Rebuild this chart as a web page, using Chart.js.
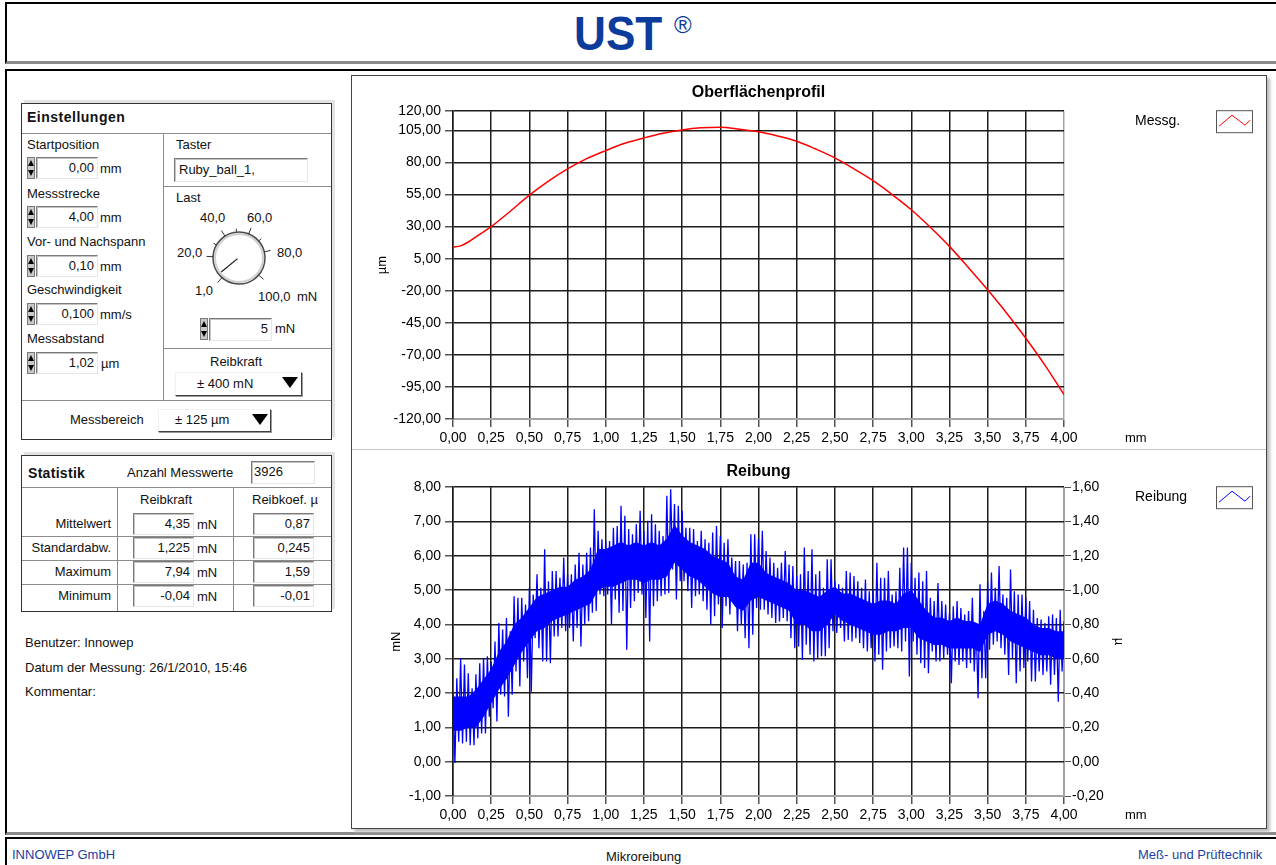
<!DOCTYPE html>
<html lang="de">
<head>
<meta charset="utf-8">
<title>UST Mikroreibung</title>
<script src="https://cdn.jsdelivr.net/npm/chart.js@4.4.0/dist/chart.umd.min.js"></script>
<style>
  body { margin: 0; width: 1276px; height: 865px; overflow: hidden; background: #fff;
         font-family: "Liberation Sans", Arial, sans-serif; font-size: 13px; color: #111; position: relative; }
  .abs { position: absolute; box-sizing: border-box; }
  .t { position: absolute; white-space: nowrap; line-height: 16px; font-size: 13px; }
  .frame { position: absolute; box-sizing: border-box; border: 1px solid #333; background: #fff;
           box-shadow: 3px -3px 0 #e2e2e2; }
  .hl { position: absolute; height: 1px; background: #8c8c8c; }
  .vl { position: absolute; width: 1px; background: #8c8c8c; }
  .box { position: absolute; box-sizing: border-box; background: #fff; border: 1px solid;
         border-color: #7a7a7a #e6e6e6 #e6e6e6 #7a7a7a; box-shadow: inset 1px 1px 0 #c4c4c4;
         text-align: right; padding-right: 3px; font-size: 13px; line-height: 20px; white-space: nowrap; }
  .drop { position: absolute; box-sizing: border-box; background: #fff; border: 1px solid;
          border-color: #f2f2f2 #404040 #404040 #f2f2f2; box-shadow: 1px 1px 0 #9a9a9a; }
  canvas { position: absolute; }
</style>
</head>
<body>

<!-- Kopf -->
<div class="abs" style="left:5px;top:2px;width:1290px;height:62px;border-left:2px solid #000;border-top:2px solid #000;border-bottom:3px solid #8a8a8a;"></div>
<div class="abs" style="left:574px;top:10px;font:bold 48px/48px 'Liberation Sans',Arial,sans-serif;color:#0b3b9b;transform:scaleX(0.92);transform-origin:left top;">UST</div>
<div class="abs" style="left:674px;top:13px;font:24px/24px 'Liberation Sans',Arial,sans-serif;color:#0b3b9b;">®</div>

<!-- Hauptrahmen -->
<div class="abs" style="left:5px;top:69px;width:1290px;height:766px;border-left:2px solid #000;border-top:2px solid #000;border-bottom:3px solid #8a8a8a;"></div>

<!-- Fuss -->
<div class="abs" style="left:5px;top:837px;width:1290px;height:40px;border-left:2px solid #000;border-top:2px solid #000;"></div>
<div class="t" style="left:12px;top:847px;color:#1a3fa0;">INNOWEP GmbH</div>
<div class="t" style="left:606px;top:849px;">Mikroreibung</div>
<div class="t" style="left:1138px;top:847px;color:#1a3fa0;">Meß- und Prüftechnik</div>

<!-- Einstellungen -->
<div class="frame" style="left:21px;top:103px;width:311px;height:337px;"></div>
<div class="t" style="left:27px;top:109px;font-weight:bold;font-size:14px;letter-spacing:0.5px;">Einstellungen</div>
<div class="hl" style="left:22px;top:133px;width:309px;"></div>
<div class="vl" style="left:163px;top:134px;height:266px;"></div>
<div class="hl" style="left:22px;top:400px;width:309px;"></div>
<div class="hl" style="left:164px;top:186px;width:167px;"></div>
<div class="hl" style="left:164px;top:348px;width:167px;"></div>

<div class="t" style="left:27px;top:137px;">Startposition</div>
<div class="box" style="left:36px;top:157px;width:62px;height:22px;">0,00</div>
<div class="t" style="left:100px;top:161px;">mm</div>
<div class="t" style="left:27px;top:186px;">Messstrecke</div>
<div class="box" style="left:36px;top:206px;width:62px;height:22px;">4,00</div>
<div class="t" style="left:100px;top:210px;">mm</div>
<div class="t" style="left:27px;top:234px;">Vor- und Nachspann</div>
<div class="box" style="left:36px;top:255px;width:62px;height:22px;">0,10</div>
<div class="t" style="left:100px;top:259px;">mm</div>
<div class="t" style="left:27px;top:282px;">Geschwindigkeit</div>
<div class="box" style="left:36px;top:303px;width:62px;height:22px;">0,100</div>
<div class="t" style="left:100px;top:307px;">mm/s</div>
<div class="t" style="left:27px;top:331px;">Messabstand</div>
<div class="box" style="left:36px;top:352px;width:62px;height:22px;">1,02</div>
<div class="t" style="left:101px;top:356px;">µm</div>

<div class="t" style="left:176px;top:137px;">Taster</div>
<div class="box" style="left:174px;top:158px;width:134px;height:24px;text-align:left;padding-left:4px;line-height:22px;">Ruby_ball_1,</div>
<div class="t" style="left:176px;top:190px;">Last</div>
<div class="t" style="left:200px;top:210px;">40,0</div>
<div class="t" style="left:247px;top:210px;">60,0</div>
<div class="t" style="left:177px;top:245px;">20,0</div>
<div class="t" style="left:277px;top:245px;">80,0</div>
<div class="t" style="left:195px;top:283px;">1,0</div>
<div class="t" style="left:258px;top:289px;">100,0</div>
<div class="t" style="left:297px;top:289px;">mN</div>
<div class="box" style="left:209px;top:318px;width:63px;height:23px;">5</div>
<div class="t" style="left:275px;top:321px;">mN</div>
<div class="t" style="left:210px;top:354px;">Reibkraft</div>
<div class="drop" style="left:175px;top:372px;width:127px;height:24px;"></div>
<div class="t" style="left:197px;top:376px;">± 400 mN</div>
<div class="t" style="left:70px;top:412px;">Messbereich</div>
<div class="drop" style="left:158px;top:409px;width:113px;height:23px;"></div>
<div class="t" style="left:175px;top:412px;">± 125 µm</div>

<svg class="abs" style="left:0;top:0;" width="1276" height="865">
  <g fill="#000">
    <path d="M282 377 L298 377 L290 388 Z"/>
    <path d="M252 414 L268 414 L260 425 Z"/>
  </g>
  <g id="spinners"></g>
  <g id="dial" stroke-linecap="square"></g>
</svg>

<!-- Statistik -->
<div class="frame" style="left:21px;top:455px;width:311px;height:157px;"></div>
<div class="t" style="left:28px;top:465px;font-weight:bold;font-size:14px;letter-spacing:0.3px;">Statistik</div>
<div class="t" style="left:127px;top:465px;">Anzahl Messwerte</div>
<div class="box" style="left:251px;top:461px;width:64px;height:23px;text-align:left;padding-left:2px;" id="anzahl"></div>
<div class="hl" style="left:22px;top:487px;width:309px;"></div>
<div class="vl" style="left:117px;top:488px;height:123px;"></div>
<div class="vl" style="left:233px;top:488px;height:123px;"></div>
<div class="t" style="left:140px;top:492px;">Reibkraft</div>
<div class="t" style="left:252px;top:492px;">Reibkoef. µ</div>
<div id="statRows"></div>

<div class="t" style="left:25px;top:635px;">Benutzer: Innowep</div>
<div class="t" style="left:25px;top:660px;">Datum der Messung: 26/1/2010, 15:46</div>
<div class="t" style="left:25px;top:684px;">Kommentar:</div>

<!-- Diagramme -->
<div class="abs" style="left:351px;top:75px;width:916px;height:754px;border:1px solid #444;box-shadow:3px 3px 3px #bdbdbd;background:#fff;"></div>
<div class="hl" style="left:352px;top:449px;width:914px;background:#c6c6c6;"></div>
<canvas id="profilChart" width="913" height="370" style="left:353px;top:77px;"></canvas>
<canvas id="reibChart" width="913" height="370" style="left:353px;top:454px;"></canvas>

<script>
// Statistik
const anzahlMesswerte = "3926";
const statLabels = ["Mittelwert", "Standardabw.", "Maximum", "Minimum"];
const statKraft = ["4,35", "1,225", "7,94", "-0,04"];
const statKoef = ["0,87", "0,245", "1,59", "-0,01"];

// Oberflächenprofil (mm / µm)
const profilX = [0, 0.05, 0.1, 0.15, 0.2, 0.25, 0.375, 0.5, 0.625, 0.75, 0.875, 1.0,
  1.125, 1.25, 1.375, 1.5, 1.625, 1.75, 1.875, 2.0, 2.125, 2.25, 2.375, 2.5, 2.625,
  2.75, 2.875, 3.0, 3.125, 3.25, 3.375, 3.5, 3.625, 3.75, 3.875, 4.0];
const profilY = [14, 15, 18, 22, 26, 30, 42, 54.5, 65.5, 75, 83, 89.3,
  95, 99.2, 102.8, 105.4, 107, 107.5, 106, 104, 100.7, 96.6, 90.5, 83.6, 75,
  65.8, 55, 43.2, 29.5, 14.6, -2, -19.3, -37.5, -57, -78, -101];

// Reibung (mN): Spitzenwerte je 0,025 mm
const reibSchritt = 0.025;
const reibMax = [
  2.0, 2.43, 3.02, 2.83, 2.58, 2.14, 2.55, 2.87, 3.02, 3.07,
  2.92, 3.5, 4.04, 3.85, 4.19, 3.8, 4.82, 4.78, 4.78, 4.58,
  5.07, 4.87, 5.46, 5.07, 6.19, 5.26, 5.56, 5.56, 5.36, 5.95,
  5.46, 5.46, 5.75, 6.09, 5.75, 6.09, 6.24, 7.36, 6.73, 6.48,
  6.43, 6.43, 6.82, 6.87, 7.46, 7.17, 6.78, 6.63, 6.92, 7.31,
  6.73, 7.02, 7.21, 6.92, 6.73, 6.58, 7.75, 7.94, 7.51, 7.46,
  7.31, 6.82, 6.82, 6.78, 6.43, 6.73, 6.48, 6.38, 6.68, 6.87,
  6.58, 6.38, 6.48, 5.95, 5.85, 5.85, 5.75, 5.8, 6.63, 6.63,
  6.5, 6.73, 6.14, 5.95, 5.8, 5.65, 5.8, 6.14, 5.75, 5.7,
  5.41, 5.46, 6.24, 5.56, 6.19, 5.46, 5.56, 5.07, 5.9, 5.9,
  5.26, 5.17, 5.07, 5.56, 5.51, 5.41, 5.26, 5.07, 5.31, 4.97,
  5.02, 5.8, 5.36, 5.36, 5.56, 4.87, 4.97, 5.65, 6.24, 6.24,
  5.8, 5.36, 5.51, 5.26, 5.56, 4.78, 4.68, 5.21, 4.68, 4.58,
  4.34, 4.53, 4.68, 4.48, 4.29, 4.39, 4.78, 4.0, 5.17, 4.39,
  5.26, 5.51, 5.07, 5.7, 4.87, 4.78, 5.6, 4.97, 4.87, 4.87,
  4.78, 4.68, 4.43, 4.19, 4.14, 4.04, 4.24, 4.29, 4.19, 4.43,
  4.09];
const reibMin = [
  -0.04, 0.58, 0.53, 0.58, 0.48, 0.48, 0.68, 0.82, 0.82, 1.31,
  1.56, 1.17, 1.95, 1.9, 1.31, 1.95, 2.63, 2.19, 2.92, 2.43,
  2.04, 3.6, 3.31, 2.92, 2.92, 2.87, 3.65, 3.65, 3.9, 3.8,
  3.9, 3.5, 3.9, 3.36, 4.0, 4.09, 4.34, 4.39, 4.87, 4.82,
  4.87, 4.0, 4.73, 4.34, 4.39, 3.26, 4.48, 4.68, 4.92, 4.87,
  4.19, 3.5, 4.53, 4.68, 4.82, 4.87, 4.92, 5.6, 4.73, 5.26,
  5.26, 4.97, 4.48, 4.82, 4.87, 4.68, 4.43, 4.0, 4.24, 4.58,
  3.9, 4.53, 4.29, 4.63, 3.8, 4.0, 3.6, 3.31, 3.7, 4.48,
  4.43, 4.43, 4.29, 4.19, 4.04, 4.09, 4.19, 4.09, 3.6, 3.31,
  3.36, 2.97, 3.41, 3.12, 2.92, 3.02, 3.07, 3.07, 3.31, 3.8,
  3.75, 3.9, 3.5, 3.55, 3.5, 3.6, 3.46, 3.31, 3.21, 3.31,
  2.92, 3.12, 2.68, 3.21, 3.31, 3.36, 3.31, 3.21, 3.5, 2.48,
  3.5, 3.12, 2.87, 2.73, 2.58, 3.21, 2.92, 2.92, 3.02, 3.12,
  2.29, 2.92, 2.82, 2.92, 2.73, 2.87, 2.63, 1.85, 2.43, 2.43,
  3.26, 3.41, 3.5, 3.31, 3.12, 2.53, 3.02, 2.29, 2.63, 2.73,
  2.92, 2.34, 2.34, 2.63, 2.53, 2.63, 2.24, 2.53, 1.75, 2.63,
  2.53];

// dichter Kern des Reibungsbandes je 0,05 mm
const kernSchritt = 0.05;
const kernOben = [
  1.9, 1.9, 1.9, 2.1, 2.4, 2.7, 3.2, 3.5, 4.0, 4.2,
  4.5, 4.8, 4.9, 5.0, 5.1, 5.1, 5.3, 5.4, 5.6, 6.2,
  6.2, 6.3, 6.4, 6.3, 6.4, 6.3, 6.4, 6.3, 6.5, 6.9,
  6.6, 6.4, 6.3, 6.2, 6.0, 5.9, 5.8, 5.4, 5.3, 5.8,
  5.8, 5.5, 5.4, 5.3, 5.2, 5.0, 5.0, 4.9, 4.8, 5.0,
  5.1, 4.9, 4.9, 4.8, 4.7, 4.6, 4.7, 4.7, 4.6, 4.9,
  5.0, 4.7, 4.4, 4.2, 4.2, 4.1, 4.2, 4.1, 4.1, 4.0,
  4.6, 4.7, 4.6, 4.4, 4.3, 4.2, 4.0, 3.9, 3.9, 3.8,
  3.8];
const kernUnten = [
  0.9, 0.9, 1.0, 1.0, 1.3, 1.7, 2.1, 2.4, 2.8, 3.2,
  3.5, 3.8, 3.9, 4.1, 4.2, 4.3, 4.4, 4.5, 4.6, 5.0,
  5.1, 5.1, 5.2, 5.3, 5.3, 5.2, 5.3, 5.3, 5.4, 5.8,
  5.6, 5.4, 5.3, 5.1, 4.9, 4.8, 4.8, 4.5, 4.4, 4.7,
  4.8, 4.7, 4.6, 4.5, 4.4, 4.0, 4.0, 3.8, 3.8, 4.0,
  4.3, 4.1, 4.0, 3.9, 3.8, 3.7, 3.7, 3.8, 3.8, 3.9,
  3.9, 3.6, 3.5, 3.4, 3.4, 3.3, 3.3, 3.3, 3.3, 3.2,
  3.7, 3.8, 3.7, 3.5, 3.4, 3.3, 3.2, 3.1, 3.1, 3.0,
  3.0];

// Achsenteilung
const xTicks = [0, 0.25, 0.5, 0.75, 1, 1.25, 1.5, 1.75, 2, 2.25, 2.5, 2.75, 3, 3.25, 3.5, 3.75, 4];
const profilTicks = [-120, -95, -70, -45, -20, 5, 30, 55, 80, 105, 120];
const reibTicks = [-1, 0, 1, 2, 3, 4, 5, 6, 7, 8];
const muTicks = [-0.2, 0, 0.2, 0.4, 0.6, 0.8, 1.0, 1.2, 1.4, 1.6];

// --- Statistik-Tabelle
document.getElementById("anzahl").textContent = anzahlMesswerte;
const statRows = document.getElementById("statRows");
statLabels.forEach((label, i) => {
  const top = 513 + i * 24;
  statRows.insertAdjacentHTML("beforeend", `
    <div class="t" style="left:22px;top:${top + 3}px;width:89px;text-align:right;">${label}</div>
    <div class="box" style="left:133px;top:${top}px;width:61px;height:22px;">${statKraft[i]}</div>
    <div class="t" style="left:197px;top:${top + 4}px;">mN</div>
    <div class="box" style="left:253px;top:${top}px;width:61px;height:22px;">${statKoef[i]}</div>
    ${i < 3 ? `<div class="hl" style="left:22px;top:${top + 23}px;width:309px;"></div>` : ""}
  `);
});

// --- Spinner-Pfeile und Lastskala
const svgNS = "http://www.w3.org/2000/svg";
function svgEl(parent, tag, attrs) {
  const el = document.createElementNS(svgNS, tag);
  Object.entries(attrs).forEach(([k, v]) => el.setAttribute(k, v));
  document.getElementById(parent).appendChild(el);
}
[[27, 157], [27, 206], [27, 255], [27, 303], [27, 352], [200, 318]].forEach(([x, y]) => {
  svgEl("spinners", "rect", { x: x + 0.5, y: y + 0.5, width: 7, height: 21, fill: "#c9c9c9", stroke: "#7a7a7a" });
  svgEl("spinners", "path", { d: `M${x + 1} ${y + 9} L${x + 4} ${y + 3} L${x + 7} ${y + 9} Z`, fill: "#000" });
  svgEl("spinners", "path", { d: `M${x + 1} ${y + 13} L${x + 4} ${y + 19} L${x + 7} ${y + 13} Z`, fill: "#000" });
});

const dialCx = 239, dialCy = 258;
svgEl("dial", "circle", { cx: dialCx, cy: dialCy, r: 24, fill: "none", stroke: "#d0d0d0", "stroke-width": 2 });
svgEl("dial", "circle", { cx: dialCx, cy: dialCy, r: 26, fill: "none", stroke: "#4a4a4a", "stroke-width": 1.5 });
const lastWinkel = (v) => (229 - 270 * (v - 1) / 99) * Math.PI / 180;
[1, 20, 40, 60, 80, 100].forEach((v) => {
  const a = lastWinkel(v);
  svgEl("dial", "line", {
    x1: dialCx + 26 * Math.cos(a), y1: dialCy - 26 * Math.sin(a),
    x2: dialCx + 32 * Math.cos(a), y2: dialCy - 32 * Math.sin(a), stroke: "#333", "stroke-width": 1
  });
});
[30, 50, 70].forEach((v) => {
  const a = lastWinkel(v);
  svgEl("dial", "line", {
    x1: dialCx + 27 * Math.cos(a), y1: dialCy - 27 * Math.sin(a),
    x2: dialCx + 29 * Math.cos(a), y2: dialCy - 29 * Math.sin(a), stroke: "#333", "stroke-width": 1
  });
});
const nadel = lastWinkel(5);
svgEl("dial", "line", {
  x1: dialCx - 2, y1: dialCy + 1,
  x2: dialCx + 22 * Math.cos(nadel), y2: dialCy - 22 * Math.sin(nadel), stroke: "#222", "stroke-width": 1.2
});

// --- Diagramme
Chart.defaults.font.family = '"Liberation Sans", Arial, sans-serif';
Chart.defaults.color = "#000";

const fmt = (v) => (Math.abs(v) < 1e-9 ? 0 : v).toFixed(2).replace(".", ",");
const gridDark = "#1c1c1c";
const gridLight = "#a4a4a4";

// Legende rechts und Einheit der x-Achse
const sideLegend = {
  id: "sideLegend",
  afterDraw(chart, args, opts) {
    const { ctx, chartArea } = chart;
    const ds = chart.data.datasets[0];
    ctx.save();
    ctx.fillStyle = "#000";
    ctx.textBaseline = "middle";
    ctx.font = '14px "Liberation Sans", Arial, sans-serif';
    ctx.fillText(ds.label, chartArea.right + 71, chartArea.top + 10);
    ctx.font = '13px "Liberation Sans", Arial, sans-serif';
    ctx.fillText(opts.unit, chartArea.right + 61, chartArea.bottom + 19);

    const bx = chartArea.right + 152, by = chartArea.top - 1, bw = 36, bh = 22;
    ctx.fillStyle = "#fff";
    ctx.fillRect(bx, by, bw, bh);
    ctx.strokeStyle = "#555";
    ctx.lineWidth = 1;
    ctx.strokeRect(bx + 0.5, by + 0.5, bw, bh);
    ctx.strokeStyle = ds.borderColor;
    ctx.beginPath();
    ctx.moveTo(bx + 3, by + 16);
    ctx.lineTo(bx + 16, by + 5);
    ctx.lineTo(bx + 29, by + 15);
    ctx.lineTo(bx + 34, by + 10);
    ctx.stroke();
    ctx.restore();
  },
};

function xAchse() {
  return {
    type: "linear",
    min: 0,
    max: 4,
    afterBuildTicks: (s) => { s.ticks = xTicks.map((value) => ({ value })); },
    afterFit: (s) => { s.height = 28; },
    ticks: { autoSkip: false, maxRotation: 0, padding: 3, font: { size: 14 }, callback: (v) => fmt(v) },
    grid: {
      color: (c) => (c.tick && c.tick.value === 4 ? gridLight : gridDark),
      lineWidth: 1.5,
      tickLength: 8,
      tickColor: "#555",
    },
    border: { color: gridLight, width: 1 },
  };
}

function yAchse(min, max, ticks, titel, titelAbstand) {
  return {
    type: "linear",
    position: "left",
    min,
    max,
    afterBuildTicks: (s) => { s.ticks = ticks.map((value) => ({ value })); },
    afterFit: (s) => { s.width = 100; },
    ticks: { autoSkip: false, padding: 4, font: { size: 14 }, callback: (v) => fmt(v) },
    grid: {
      color: (c) => (c.tick && c.tick.value === min ? gridLight : gridDark),
      lineWidth: 1.5,
      tickLength: 8,
      tickColor: "#555",
    },
    border: { color: gridDark, width: 1.5 },
    title: { display: true, text: titel, font: { size: 13 }, padding: { top: titelAbstand, bottom: 0 } },
  };
}

new Chart(document.getElementById("profilChart"), {
  type: "line",
  data: {
    datasets: [{
      label: "Messg.",
      data: profilX.map((x, i) => ({ x, y: profilY[i] })),
      borderColor: "#ff0000",
      borderWidth: 1.5,
      pointRadius: 0,
      cubicInterpolationMode: "monotone",
      fill: false,
    }],
  },
  options: {
    responsive: false,
    animation: false,
    layout: { padding: { left: 0, top: 0, bottom: 0, right: 202 } },
    plugins: {
      legend: { display: false },
      tooltip: { enabled: false },
      title: {
        display: true, text: "Oberflächenprofil", fullSize: false, color: "#000",
        font: { size: 16, weight: "bold" }, padding: { top: 6, bottom: 9 },
      },
      sideLegend: { unit: "mm" },
    },
    scales: {
      x: xAchse(),
      y: yAchse(-120, 120, profilTicks, "µm", 22),
    },
  },
  plugins: [sideLegend],
});

const reibPunkte = [];
reibMax.forEach((v, i) => {
  const x = i * reibSchritt;
  reibPunkte.push({ x, y: v }, { x: x + reibSchritt / 2, y: reibMin[i] });
});

new Chart(document.getElementById("reibChart"), {
  type: "line",
  data: {
    datasets: [
      {
        label: "Reibung",
        data: reibPunkte,
        borderColor: "#0000ff",
        borderWidth: 1.3,
        pointRadius: 0,
        tension: 0,
        fill: false,
      },
      {
        label: "Kern oben",
        data: kernOben.map((y, i) => ({ x: i * kernSchritt, y })),
        borderColor: "#0000ff",
        borderWidth: 0,
        pointRadius: 0,
        fill: false,
      },
      {
        label: "Kern unten",
        data: kernUnten.map((y, i) => ({ x: i * kernSchritt, y })),
        borderColor: "#0000ff",
        backgroundColor: "#0000ff",
        borderWidth: 0,
        pointRadius: 0,
        fill: 1,
      },
    ],
  },
  options: {
    responsive: false,
    animation: false,
    layout: { padding: { left: 0, top: 0, bottom: 0, right: 140 } },
    plugins: {
      legend: { display: false },
      tooltip: { enabled: false },
      title: {
        display: true, text: "Reibung", fullSize: false, color: "#000",
        font: { size: 16, weight: "bold" }, padding: { top: 8, bottom: 6 },
      },
      sideLegend: { unit: "mm" },
    },
    scales: {
      x: xAchse(),
      y: yAchse(-1, 8, reibTicks, "mN", 36),
      y2: {
        type: "linear",
        position: "right",
        min: -0.2,
        max: 1.6,
        afterBuildTicks: (s) => { s.ticks = muTicks.map((value) => ({ value })); },
        afterFit: (s) => { s.width = 62; },
        ticks: { autoSkip: false, padding: 1, font: { size: 14 }, callback: (v) => fmt(v) },
        grid: { drawOnChartArea: false, tickLength: 7, tickColor: "#555" },
        border: { color: gridLight, width: 1 },
        title: { display: true, text: "µ", font: { size: 13 }, padding: { top: 0, bottom: 0 } },
      },
    },
  },
  plugins: [sideLegend],
});
</script>
</body>
</html>
